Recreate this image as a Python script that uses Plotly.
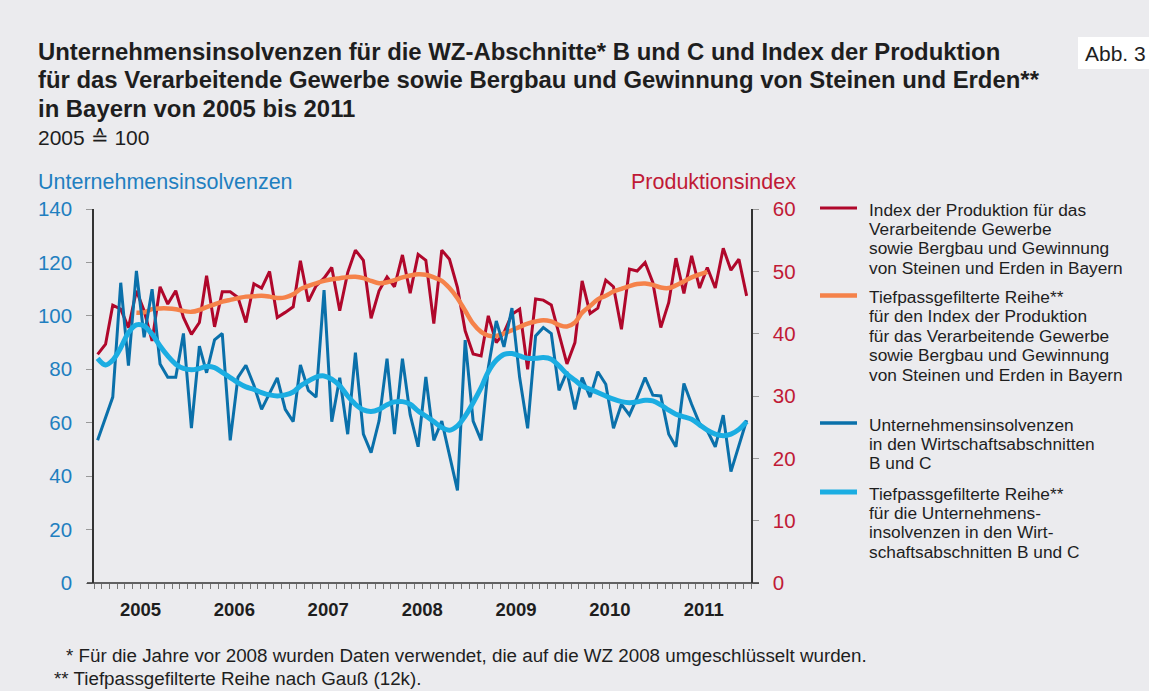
import plotly.graph_objects as go

# ---------------- data ----------------
years = [2005, 2006, 2007, 2008, 2009, 2010, 2011]

# Index der Produktion (monthly, Jan 2005 .. Dec 2011), read on left scale
produktion = [85.6, 89.4, 104.0, 102.5, 95.6, 109.4, 101.9, 90.6, 110.9, 104.4, 109.4, 99.4,
              93.1, 97.5, 115.0, 95.9, 109.0, 109.0, 106.9, 97.5, 112.0, 110.4, 116.6, 99.4,
              101.3, 103.4, 120.6, 105.4, 111.2, 114.1, 118.1, 101.9, 116.2, 124.6, 120.8, 99.1,
              109.4, 114.6, 110.9, 122.8, 108.5, 123.0, 120.8, 97.1, 124.6, 121.2, 110.6, 94.4,
              85.7, 85.0, 100.0, 90.0, 93.7, 100.6, 102.5, 80.0, 106.3, 105.9, 104.1, 93.1,
              82.0, 90.0, 113.1, 100.9, 102.9, 113.4, 110.9, 95.0, 117.5, 116.8, 120.0, 112.5,
              95.6, 105.0, 121.6, 108.4, 122.5, 110.4, 118.1, 110.4, 125.3, 117.1, 121.2, 107.5]

# Tiefpassgefilterte Reihe Produktion (Jun 2005 .. Jul 2011)
produktion_tp = [101.2, 101.3, 102.5, 102.8, 102.8, 102.5, 101.8,
                 101.5, 102.2, 103.3, 104.3, 105.3, 106.0, 106.6, 107.2, 107.3, 107.5, 107.2, 106.7,
                 106.9, 108.1, 110.0, 111.2, 112.2, 113.1, 113.7, 114.1, 114.5, 114.6, 114.1, 113.1,
                 112.2, 112.6, 113.4, 114.4, 115.1, 115.6, 115.4, 114.4, 113.1, 110.4, 106.6, 101.9,
                 97.1, 94.0, 92.6, 92.5, 93.4, 94.6, 95.9, 97.1, 97.9, 98.4, 97.9, 96.6,
                 96.0, 97.5, 101.2, 103.7, 106.2, 107.5, 109.1, 110.1, 111.1, 111.9, 112.1, 111.6,
                 110.6, 110.4, 111.4, 112.9, 114.4, 115.5, 116.5]
produktion_tp_start = (2005, 6)

# Unternehmensinsolvenzen (monthly, Jan 2005 .. Dec 2011)
insolvenzen = [53.4, 62.0, 69.6, 112.4, 81.4, 116.8, 92.0, 110.0, 82.0, 77.0, 77.0, 93.4,
               58.0, 88.7, 78.7, 91.0, 93.4, 53.4, 77.0, 81.5, 74.0, 65.0, 71.0, 76.8,
               65.0, 60.4, 81.6, 72.1, 69.6, 109.6, 60.4, 76.8, 55.7, 86.2, 55.7, 48.8,
               60.7, 84.0, 55.7, 84.0, 63.0, 51.0, 77.1, 53.4, 60.6, 48.2, 34.7, 90.9,
               60.6, 53.4, 80.6, 98.1, 88.4, 102.9, 76.9, 57.9, 92.5, 95.6, 93.4, 72.1,
               79.1, 65.0, 76.9, 69.6, 79.1, 74.4, 57.9, 66.9, 62.9, 69.4, 76.9, 70.3,
               70.0, 55.7, 51.0, 74.7, 66.9, 59.7, 57.0, 51.0, 62.8, 41.7, 51.3, 60.9]

# Tiefpassgefilterte Reihe Insolvenzen (Jan 2005 .. Dec 2011)
insolvenzen_tp = [84.1, 81.6, 83.4, 88.1, 93.7, 96.6, 96.2, 93.1, 88.7, 85.0, 81.9, 80.3,
                  79.8, 80.3, 81.0, 80.6, 78.8, 76.9, 75.0, 73.4, 72.5, 71.3, 70.4, 70.0,
                  70.4, 71.5, 73.8, 75.6, 77.1, 77.5, 76.3, 73.8, 70.0, 66.9, 64.8, 64.2,
                  65.0, 66.7, 67.8, 67.9, 66.9, 64.4, 62.5, 60.4, 58.2, 57.2, 58.8, 62.5,
                  67.5, 73.1, 79.1, 83.4, 85.6, 85.9, 85.0, 84.1, 84.1, 84.4, 83.8, 81.3,
                  78.2, 75.9, 73.8, 72.5, 71.3, 70.0, 68.8, 67.9, 67.5, 67.8, 68.4, 68.2,
                  66.7, 64.7, 63.2, 62.2, 61.3, 59.2, 57.2, 55.7, 55.1, 55.7, 57.5, 60.4]

left_ticks = [0, 20, 40, 60, 80, 100, 120, 140]
right_ticks = [0, 10, 20, 30, 40, 50, 60]

legend_texts = [
    ["Index der Produktion für das", "Verarbeitende Gewerbe",
     "sowie Bergbau und Gewinnung", "von Steinen und Erden in Bayern"],
    ["Tiefpassgefilterte Reihe**", "für den Index der Produktion",
     "für das Verarbeitende Gewerbe", "sowie Bergbau und Gewinnung",
     "von Steinen und Erden in Bayern"],
    ["Unternehmensinsolvenzen", "in den Wirtschaftsabschnitten", "B und C"],
    ["Tiefpassgefilterte Reihe**", "für die Unternehmens-",
     "insolvenzen in den Wirt-", "schaftsabschnitten B und C"],
]

title_lines = ["Unternehmensinsolvenzen für die WZ-Abschnitte* B und C und Index der Produktion",
               "für das Verarbeitende Gewerbe sowie Bergbau und Gewinnung von Steinen und Erden**",
               "in Bayern von 2005 bis 2011"]
subtitle = "2005 ≙ 100"
footnotes = ["* Für die Jahre vor 2008 wurden Daten verwendet, die auf die WZ 2008 umgeschlüsselt wurden.",
             "** Tiefpassgefilterte Reihe nach Gauß (12k)."]

# ---------------- styling ----------------
BG = "#EBEBEE"
RED = "#B0072B"
ORANGE = "#F5824A"
DBLUE = "#0A70AA"
LBLUE = "#1BADE2"
TBLUE = "#1F7FC0"
TRED = "#C01A36"
TXT = "#1E1E1E"
FONT = "Liberation Sans"

W, H = 1149, 691
PL, PR, PT, PB = 94, 751, 209, 583


def px2x(px):
    return (px - PL) / (PR - PL)


def px2y(py):
    return (PB - py) / (PB - PT)


month_dates = [f"{y}-{m:02d}-15" for y in years for m in range(1, 13)]
sy, sm = produktion_tp_start
start_idx = (sy - years[0]) * 12 + (sm - 1)
tp_dates = month_dates[start_idx:start_idx + len(produktion_tp)]

fig = go.Figure()
fig.add_trace(go.Scatter(x=month_dates, y=produktion, mode="lines",
                         line=dict(color=RED, width=3), showlegend=False))
fig.add_trace(go.Scatter(x=tp_dates, y=produktion_tp, mode="lines",
                         line=dict(color=ORANGE, width=4.5, shape="spline"), showlegend=False))
fig.add_trace(go.Scatter(x=month_dates, y=insolvenzen, mode="lines",
                         line=dict(color=DBLUE, width=3), showlegend=False))
fig.add_trace(go.Scatter(x=month_dates, y=insolvenzen_tp, mode="lines",
                         line=dict(color=LBLUE, width=5, shape="spline"), showlegend=False))
# empty trace so that the right-hand scale (Produktionsindex) is drawn
fig.add_trace(go.Scatter(x=[], y=[], yaxis="y2", showlegend=False, hoverinfo="skip"))

x_range = [f"{years[0]}-01-01", f"{years[-1] + 1}-01-01"]

fig.update_layout(
    width=W, height=H,
    paper_bgcolor=BG, plot_bgcolor=BG,
    margin=dict(l=PL, r=W - PR, t=PT, b=H - PB, pad=0),
    font=dict(family=FONT, color=TXT),
    xaxis=dict(type="date", range=x_range,
               tickvals=[f"{y}-07-01" for y in years], ticktext=[str(y) for y in years],
               ticks="outside", ticklen=5, tickwidth=1, tickcolor="#777",
               minor=dict(ticks="outside", dtick="M1", tick0=x_range[0], ticklen=5,
                          tickwidth=1, tickcolor="#777", showgrid=False),
               showline=False, showgrid=False, zeroline=False,
               tickfont=dict(family=FONT, size=18.5, color=TXT, weight="bold"),
               ticklabelstandoff=5),
    xaxis2=dict(type="date", range=x_range, overlaying="x", anchor="y", side="bottom",
                tickvals=[f"{y}-01-01" for y in years + [years[-1] + 1]],
                ticks="outside", ticklen=26, tickwidth=1.2, tickcolor="#333",
                showticklabels=False, showline=False, showgrid=False, zeroline=False),
    yaxis=dict(range=[0, 140], tickvals=left_ticks, ticks="outside", ticklen=6,
               tickcolor="#999", showline=True, linecolor="#333", linewidth=1.5,
               showgrid=False, zeroline=False,
               tickfont=dict(family=FONT, size=20.5, color=TBLUE), ticklabelstandoff=10),
    yaxis2=dict(range=[0, 60], tickvals=right_ticks, overlaying="y", side="right",
                anchor="x", ticks="outside", ticklen=6, tickcolor="#999",
                showline=True, linecolor="#333", linewidth=1.5,
                showgrid=False, zeroline=False,
                tickfont=dict(family=FONT, size=20.5, color=TRED), ticklabelstandoff=10),
    showlegend=False,
)

ann = []
shapes = []
# title lines
for k, t in enumerate(title_lines):
    ann.append(dict(text=t, x=px2x(36), y=px2y(51 + 28.5 * k), xref="paper", yref="paper",
                    xanchor="left", yanchor="middle", showarrow=False,
                    font=dict(family=FONT, size=23.9, color=TXT, weight="bold")))
# subtitle
ann.append(dict(text=subtitle, x=px2x(36), y=px2y(138), xref="paper", yref="paper",
                xanchor="left", yanchor="middle", showarrow=False,
                font=dict(family=FONT, size=21, color=TXT)))
# axis titles
ann.append(dict(text="Unternehmensinsolvenzen", x=px2x(36), y=px2y(182), xref="paper", yref="paper",
                xanchor="left", yanchor="middle", showarrow=False,
                font=dict(family=FONT, size=21.5, color=TBLUE)))
ann.append(dict(text="Produktionsindex", x=px2x(798), y=px2y(182), xref="paper", yref="paper",
                xanchor="right", yanchor="middle", showarrow=False,
                font=dict(family=FONT, size=21.5, color=TRED)))
# Abb. 3 box
shapes.append(dict(type="rect", xref="paper", yref="paper", x0=px2x(1078), x1=px2x(1150),
                   y0=px2y(69), y1=px2y(37), fillcolor="white", line=dict(width=0), layer="below"))
ann.append(dict(text="Abb. 3", x=px2x(1083), y=px2y(53), xref="paper", yref="paper",
                xanchor="left", yanchor="middle", showarrow=False,
                font=dict(family=FONT, size=21, color=TXT)))
# x axis base line (slightly longer than the plot area, as in the original)
shapes.append(dict(type="line", xref="paper", yref="paper", x0=px2x(87), x1=px2x(759),
                   y0=0, y1=0, line=dict(color="#333", width=1.5)))
# legend
legend_colors = [RED, ORANGE, DBLUE, LBLUE]
legend_widths = [3, 4.5, 3.5, 5]
legend_first_y = [209.5, 297, 424.5, 493.5]
LINE_PITCH = 19.4
for texts, col, lw, y0 in zip(legend_texts, legend_colors, legend_widths, legend_first_y):
    shapes.append(dict(type="line", xref="paper", yref="paper", x0=px2x(820), x1=px2x(857),
                       y0=px2y(y0 - 1.5), y1=px2y(y0 - 1.5), line=dict(color=col, width=lw)))
    for k, t in enumerate(texts):
        ann.append(dict(text=t, x=px2x(868), y=px2y(y0 + LINE_PITCH * k), xref="paper", yref="paper",
                        xanchor="left", yanchor="middle", showarrow=False, borderpad=0,
                        font=dict(family=FONT, size=17.3, color=TXT)))
# footnotes
foot_x = [64, 52]
for k, t in enumerate(footnotes):
    ann.append(dict(text=t, x=px2x(foot_x[k]), y=px2y(655 + 23 * k),
                    xref="paper", yref="paper", xanchor="left", yanchor="middle",
                    showarrow=False, font=dict(family=FONT, size=18.8, color=TXT)))

fig.update_layout(annotations=ann, shapes=shapes)
fig.write_html("out.html", config={"displayModeBar": False},
               post_script="document.body.style.margin='0';document.body.style.overflow='hidden';")
